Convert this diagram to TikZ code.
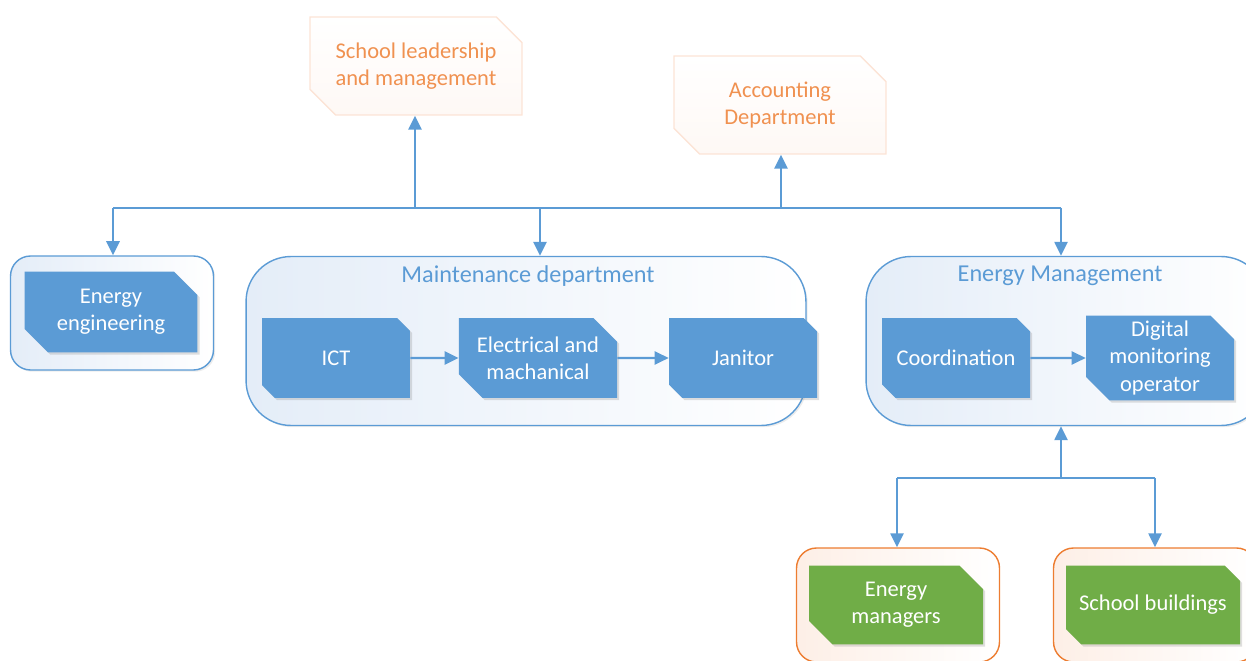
\documentclass[tikz,border=0pt]{standalone}
\usepackage{fontspec}
\setmainfont{Carlito}
\usetikzlibrary{shapes.misc,arrows.meta,shadows}

\definecolor{unitblue}{HTML}{5B9BD5}
\definecolor{unitgreen}{HTML}{70AD47}
\definecolor{unitorange}{HTML}{ED7D31}
\definecolor{paleblue}{HTML}{E4EDF8}
\definecolor{palepink}{HTML}{FCE4D6}

\tikzset{
  unit/.style={chamfered rectangle, chamfered rectangle corners={north east,south west},
    chamfered rectangle xsep=0.36cm, inner sep=0pt, align=center, text=white,
    fill=unitblue, minimum width=2.96cm, minimum height=1.6cm,
    drop shadow={shadow xshift=1.2pt, shadow yshift=-1.2pt, opacity=0.25}},
  outside/.style={chamfered rectangle, chamfered rectangle corners={north east,south west},
    chamfered rectangle xsep=0.4cm, inner sep=0pt, align=center, text=unitorange!85,
    draw=palepink, line width=0.8pt, top color=white, bottom color=palepink!25,
    minimum width=4.24cm, minimum height=1.96cm},
  group/.style={rounded corners=0.9cm, draw=unitblue, line width=0.8pt,
    left color=paleblue, right color=white, minimum width=11.2cm, minimum height=3.38cm,
    drop shadow={shadow xshift=1pt, shadow yshift=-1pt, opacity=0.15}},
  site/.style={rounded corners=0.4cm, draw=unitorange, line width=0.8pt,
    left color=palepink!60, right color=white, minimum width=4.06cm, minimum height=2.28cm},
  title/.style={text=unitblue, font=\fontsize{13.8}{16}\selectfont},
  link/.style={draw=unitblue, line width=1.2pt},
  arr/.style={link, -{Triangle[length=8pt,width=7.5pt]}},
}

\begin{document}
\begin{tikzpicture}[x=0.02cm,y=-0.02cm, font=\fontsize{12.8}{15.5}\selectfont]
\useasboundingbox (0,0) rectangle (1246,661);

% top units
\node[outside] (lead) at (416,66) {School leadership\\and management};
\node[outside] (acct) at (780,105) {Accounting\\Department};

% energy engineering
\node[group, rounded corners=0.4cm, minimum width=4.06cm, minimum height=2.28cm] (eeg) at (112,313) {};
\node[unit, minimum width=3.46cm, minimum height=1.62cm] (ee) at (111,312) {Energy\\engineering};

% maintenance
\node[group, rounded corners=0.9cm] (maint) at (526,341) {};
\node[title] (mtitle) at (528,276) {Maintenance department};
\node[unit] (ict) at (336,358) {ICT};
\node[unit] (elec) at (538,358) {Electrical and\\machanical};
\node[unit] (jan) at (743,358) {Janitor};

% energy management
\node[group, minimum width=8cm] (em) at (1066,341) {};
\node[title] (emtitle) at (1060,276) {Energy Management};
\node[unit] (coord) at (956,358) {Coordination};
\node[unit] (digi) at (1160,358) {Digital\\monitoring\\operator};

% sites
\node[site] (mgrg) at (898,605) {};
\node[unit, fill=unitgreen, minimum width=3.48cm, minimum height=1.58cm] (mgr) at (896,605) {Energy\\managers};
\node[site] (bldg) at (1155,605) {};
\node[unit, fill=unitgreen, minimum width=3.48cm, minimum height=1.58cm] (bld) at (1153,605) {School buildings};

% connectors
\coordinate (b1) at (113,208);
\coordinate (b2) at (415,208);
\coordinate (b3) at (540,208);
\coordinate (b4) at (781,208);
\coordinate (b5) at (1061,208);
\draw[link] (b1) -- (b5);
\draw[arr] (b1) -- (b1 |- eeg.north);
\draw[arr] (b2) -- (b2 |- lead.south);
\draw[arr] (b3) -- (b3 |- maint.north);
\draw[arr] (b4) -- (b4 |- acct.south);
\draw[arr] (b5) -- (b5 |- em.north);

\draw[arr] (ict) -- (elec);
\draw[arr] (elec) -- (jan);
\draw[arr] (coord) -- (digi);

\coordinate (c1) at (897,478);
\coordinate (c2) at (1061,478);
\coordinate (c3) at (1155,478);
\draw[link] (c1) -- (c3);
\draw[arr] (c2) -- (c2 |- em.south);
\draw[arr] (c1) -- (c1 |- mgrg.north);
\draw[arr] (c3) -- (c3 |- bldg.north);
\end{tikzpicture}
\end{document}
